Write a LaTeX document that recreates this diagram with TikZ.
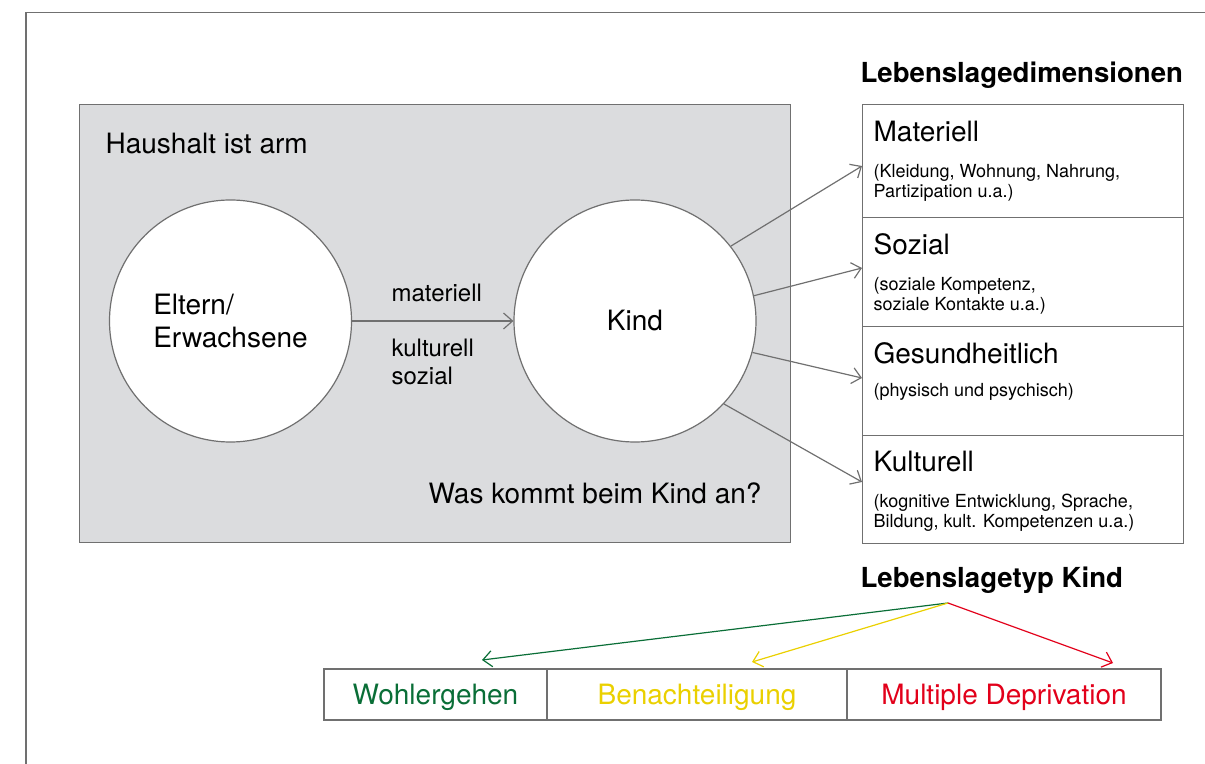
\documentclass[tikz,border=0pt]{standalone}
\usepackage{fontspec}
\setmainfont{TeX Gyre Heros}
\usetikzlibrary{arrows.meta}
\definecolor{ColLine}{RGB}{112,112,112}
\definecolor{ColBox}{RGB}{219,220,222}
\definecolor{ColGreen}{RGB}{10,110,55}
\definecolor{ColYellow}{RGB}{234,208,0}
\definecolor{ColRed}{RGB}{226,0,26}
\tikzstyle{BigText}=[font=\fontsize{14}{16.5}\selectfont,inner sep=0pt]
\tikzstyle{MidText}=[font=\fontsize{12}{14}\selectfont,inner sep=0pt,align=left,anchor=base west]
\tikzstyle{SmallText}=[font=\fontsize{9}{10}\selectfont,inner sep=0pt,align=left,anchor=base west]
\tikzstyle{TitleText}=[font=\fontsize{13.8}{16}\selectfont\bfseries,inner sep=0pt,anchor=base west]
\tikzstyle{Person}=[circle,draw=ColLine,fill=white,minimum size=121pt,BigText,align=left]
\tikzstyle{DimBox}=[rectangle,draw=ColLine,fill=white,minimum width=160.5pt,inner sep=0pt,anchor=north west]
\tikzstyle{TypeBox}=[rectangle,draw=ColLine,minimum height=25.5pt,text depth=0pt,BigText]
\tikzstyle{Flow}=[ColLine,line width=0.6pt,-{Straight Barb[length=4.5pt,width=8pt]}]

\begin{document}
\begin{tikzpicture}[x=0.5pt,y=-0.5pt,line width=0.6pt]
        \useasboundingbox(0,0)rectangle(1205,764);
        % frame and household
        \draw[ColLine,line width=0.7pt](26,764)--(26,12.5)--(1205,12.5);
        \node[draw=ColLine,fill=ColBox,minimum width=355.5pt,minimum height=219pt,inner sep=0pt,anchor=north west](haushalt)at(79,104){};
        \node[BigText,anchor=base west]at(105,154){Haushalt ist arm};
        \node[BigText,anchor=base west]at(428,503){Was kommt beim Kind an?};
        \node[Person](eltern)at(230.5,321){Eltern/\\Erwachsene};
        \node[Person](kind)at(635,321){Kind};
        \draw[Flow](eltern)--(kind);
        \node[MidText]at(391,301.5){materiell};
        \node[MidText]at(391,385){kulturell\\sozial};
        % dimensions (base of multi-line text = last line)
        \node[TitleText]at(860,83){Lebenslagedimensionen};
        \node[DimBox,minimum height=56.5pt](mat)at(862,104){};
        \node[DimBox,minimum height=54.5pt](soz)at(862,217){};
        \node[DimBox,minimum height=54.5pt](ges)at(862,326){};
        \node[DimBox,minimum height=54pt](kul)at(862,435){};
        \node[BigText,anchor=base west]at(873,142){Materiell};
        \node[BigText,anchor=base west]at(873,255){Sozial};
        \node[BigText,anchor=base west]at(873,364){Gesundheitlich};
        \node[BigText,anchor=base west]at(873,472){Kulturell};
        \node[SmallText]at(873,198){(Kleidung, Wohnung, Nahrung,\\Partizipation u.a.)};
        \node[SmallText]at(873,311){(soziale Kompetenz,\\soziale Kontakte u.a.)};
        \node[SmallText]at(873,397){(physisch und psychisch)};
        \node[SmallText]at(873,528){(kognitive Entwicklung, Sprache,\\Bildung, kult. Kompetenzen u.a.)};
        \coordinate(matin)at(862,166);
        \coordinate(sozin)at(862,268);
        \coordinate(gesin)at(862,378);
        \coordinate(kulin)at(862,482);
        \draw[Flow](kind.38)--(matin);
        \draw[Flow](kind.12)--(sozin);
        \draw[Flow](kind.-15)--(gesin);
        \draw[Flow](kind.-43)--(kulin);
        % types
        \node[TitleText]at(860,588){Lebenslagetyp Kind};
        \coordinate(typ)at(948,603);
        \node[TypeBox,minimum width=111.5pt,text=ColGreen](wohl)at(435.5,694.5){Wohlergehen};
        \node[TypeBox,minimum width=150pt,text=ColYellow](bena)at(697,694.5){Benachteiligung};
        \node[TypeBox,minimum width=157pt,text=ColRed](depr)at(1004,694.5){Multiple Deprivation};
        \coordinate(wohlin)at(482,660);
        \coordinate(benain)at(752,662);
        \coordinate(deprin)at(1113,663);
        \draw[Flow,ColGreen](typ)--(wohlin);
        \draw[Flow,ColYellow](typ)--(benain);
        \draw[Flow,ColRed](typ)--(deprin);
    \end{tikzpicture}
\end{document}
